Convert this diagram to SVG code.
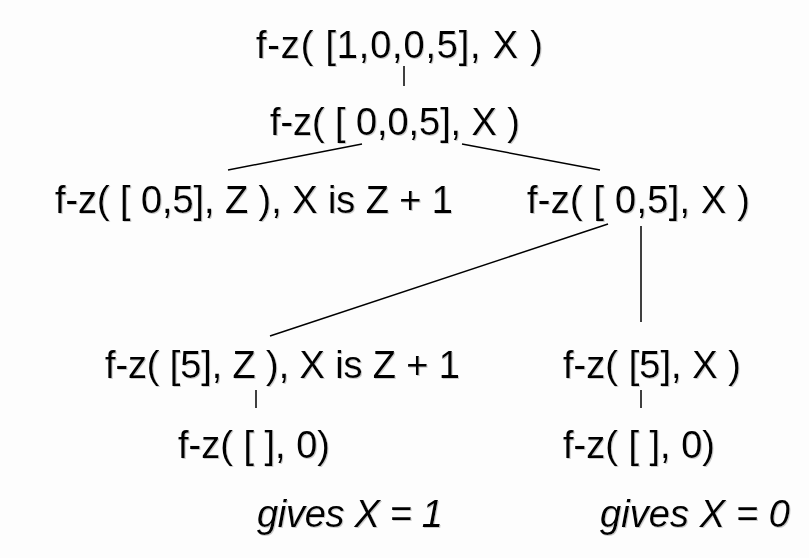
<svg xmlns="http://www.w3.org/2000/svg" width="809" height="558" viewBox="0 0 809 558">
<defs>
<filter id="sh" x="-5%" y="-20%" width="110%" height="140%">
<feDropShadow dx="1" dy="1" stdDeviation="0.3" flood-color="#aaa" flood-opacity="0.6"/>
</filter>
</defs>
<style>
text{font-family:"Liberation Sans",Arial,sans-serif;font-size:38px;fill:#000;filter:url(#sh)}
.it{font-style:italic}
line{stroke:#000;stroke-width:1.5}
</style>
<rect width="809" height="558" fill="#fdfdfd"/>
<g id="connectors">
<line x1="404" y1="66" x2="404" y2="86"/>
<line x1="362" y1="144" x2="228" y2="170"/>
<line x1="462" y1="144" x2="600" y2="170"/>
<line x1="608" y1="224" x2="270" y2="336"/>
<line x1="641" y1="226" x2="641" y2="322"/>
<line x1="256" y1="390" x2="256" y2="408"/>
<line x1="641" y1="390" x2="641" y2="408"/>
</g>
<g id="n1"><text x="256" y="58" textLength="287" lengthAdjust="spacing">f-z( [1,0,0,5], X )</text></g>
<g id="n2"><text x="270" y="135" textLength="250" lengthAdjust="spacing">f-z( [ 0,0,5], X )</text></g>
<g id="n3"><text x="55" y="213" textLength="398" lengthAdjust="spacing">f-z( [ 0,5], Z ), X is Z + 1</text></g>
<g id="n4"><text x="527" y="213" textLength="223" lengthAdjust="spacing">f-z( [ 0,5], X )</text></g>
<g id="n5"><text x="105" y="378" textLength="355" lengthAdjust="spacing">f-z( [5], Z ), X is Z + 1</text></g>
<g id="n6"><text x="563" y="378" textLength="178" lengthAdjust="spacing">f-z( [5], X )</text></g>
<g id="n7"><text x="178" y="458" textLength="152" lengthAdjust="spacing">f-z( [ ], 0)</text></g>
<g id="n8"><text x="563" y="458" textLength="152" lengthAdjust="spacing">f-z( [ ], 0)</text></g>
<g id="n9"><text class="it" x="257" y="527" textLength="186" lengthAdjust="spacing">gives X = 1</text></g>
<g id="n10"><text class="it" x="600" y="527" textLength="190" lengthAdjust="spacing">gives X = 0</text></g>
</svg>
